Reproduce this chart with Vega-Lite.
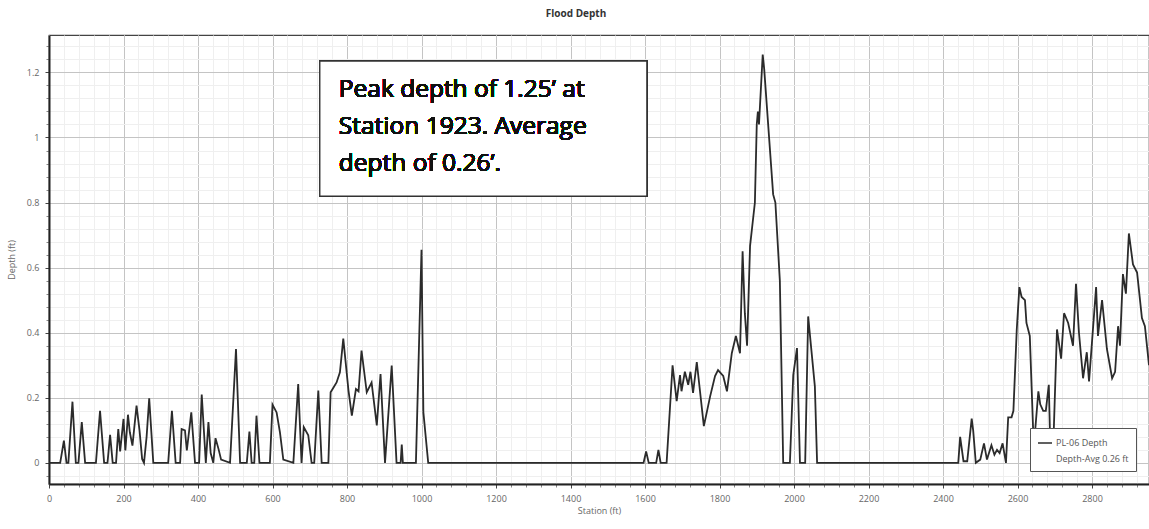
{
  "$schema": "https://vega.github.io/schema/vega-lite/v6.json",
  "width": 1100,
  "height": 449,
  "autosize": {"type": "none"},
  "padding": {"left": 49, "top": 35, "right": 0, "bottom": 45},
  "background": "white",
  "config": {"view": {"stroke": "#444", "strokeWidth": 1.2}, "font": "Open Sans"},
  "title": {"text": "Flood Depth", "fontSize": 10, "fontWeight": "bold", "color": "#333", "font": "Open Sans", "offset": 8, "baseline": "alphabetic", "dx": -23},
  "datasets": {
    "depth": [
      {"station": 0, "depth": 0}, {"station": 30, "depth": 0}, {"station": 40, "depth": 0.068}, {"station": 47, "depth": 0},
      {"station": 52, "depth": 0}, {"station": 63, "depth": 0.188}, {"station": 72, "depth": 0}, {"station": 79, "depth": 0},
      {"station": 88, "depth": 0.125}, {"station": 97, "depth": 0}, {"station": 126, "depth": 0}, {"station": 137, "depth": 0.16},
      {"station": 148, "depth": 0}, {"station": 157, "depth": 0}, {"station": 164, "depth": 0.086}, {"station": 171, "depth": 0},
      {"station": 180, "depth": 0}, {"station": 186, "depth": 0.104}, {"station": 191, "depth": 0.035}, {"station": 200, "depth": 0.135},
      {"station": 205, "depth": 0.038}, {"station": 212, "depth": 0.148}, {"station": 217, "depth": 0.094}, {"station": 224, "depth": 0.053},
      {"station": 235, "depth": 0.176}, {"station": 243, "depth": 0.1}, {"station": 250, "depth": 0.012}, {"station": 255, "depth": 0},
      {"station": 262, "depth": 0.08}, {"station": 269, "depth": 0.198}, {"station": 280, "depth": 0}, {"station": 320, "depth": 0},
      {"station": 330, "depth": 0.16}, {"station": 340, "depth": 0}, {"station": 352, "depth": 0}, {"station": 356, "depth": 0.104},
      {"station": 365, "depth": 0.1}, {"station": 370, "depth": 0.038}, {"station": 382, "depth": 0.155}, {"station": 392, "depth": 0},
      {"station": 403, "depth": 0}, {"station": 410, "depth": 0.21}, {"station": 421, "depth": 0}, {"station": 428, "depth": 0.125},
      {"station": 434, "depth": 0.03}, {"station": 441, "depth": 0}, {"station": 447, "depth": 0.076}, {"station": 455, "depth": 0.043},
      {"station": 462, "depth": 0.01}, {"station": 486, "depth": 0}, {"station": 502, "depth": 0.35}, {"station": 513, "depth": 0},
      {"station": 531, "depth": 0}, {"station": 538, "depth": 0.096}, {"station": 544, "depth": 0}, {"station": 551, "depth": 0},
      {"station": 557, "depth": 0.145}, {"station": 565, "depth": 0}, {"station": 593, "depth": 0}, {"station": 600, "depth": 0.179},
      {"station": 611, "depth": 0.155}, {"station": 620, "depth": 0.094}, {"station": 629, "depth": 0.01}, {"station": 656, "depth": 0},
      {"station": 669, "depth": 0.242}, {"station": 678, "depth": 0}, {"station": 684, "depth": 0.11}, {"station": 696, "depth": 0.085},
      {"station": 705, "depth": 0}, {"station": 712, "depth": 0}, {"station": 723, "depth": 0.222}, {"station": 732, "depth": 0},
      {"station": 750, "depth": 0}, {"station": 756, "depth": 0.217}, {"station": 763, "depth": 0.23}, {"station": 772, "depth": 0.247},
      {"station": 781, "depth": 0.278}, {"station": 790, "depth": 0.382}, {"station": 804, "depth": 0.222}, {"station": 813, "depth": 0.145},
      {"station": 824, "depth": 0.227}, {"station": 831, "depth": 0.22}, {"station": 839, "depth": 0.345}, {"station": 853, "depth": 0.217},
      {"station": 866, "depth": 0.247}, {"station": 880, "depth": 0.115}, {"station": 890, "depth": 0.273}, {"station": 902, "depth": 0},
      {"station": 920, "depth": 0.299}, {"station": 933, "depth": 0}, {"station": 944, "depth": 0}, {"station": 947, "depth": 0.056},
      {"station": 950, "depth": 0}, {"station": 985, "depth": 0}, {"station": 1000, "depth": 0.655}, {"station": 1005, "depth": 0.156},
      {"station": 1018, "depth": 0}, {"station": 1596, "depth": 0}, {"station": 1603, "depth": 0.035}, {"station": 1610, "depth": 0},
      {"station": 1630, "depth": 0}, {"station": 1636, "depth": 0.04}, {"station": 1642, "depth": 0}, {"station": 1658, "depth": 0},
      {"station": 1674, "depth": 0.3}, {"station": 1685, "depth": 0.19}, {"station": 1694, "depth": 0.27}, {"station": 1698, "depth": 0.22},
      {"station": 1707, "depth": 0.28}, {"station": 1716, "depth": 0.24}, {"station": 1722, "depth": 0.28}, {"station": 1729, "depth": 0.215},
      {"station": 1739, "depth": 0.31}, {"station": 1758, "depth": 0.113}, {"station": 1775, "depth": 0.205}, {"station": 1788, "depth": 0.267},
      {"station": 1796, "depth": 0.285}, {"station": 1810, "depth": 0.267}, {"station": 1820, "depth": 0.22}, {"station": 1833, "depth": 0.337},
      {"station": 1844, "depth": 0.39}, {"station": 1855, "depth": 0.337}, {"station": 1862, "depth": 0.65}, {"station": 1868, "depth": 0.46},
      {"station": 1874, "depth": 0.36}, {"station": 1882, "depth": 0.666}, {"station": 1895, "depth": 0.8}, {"station": 1900, "depth": 1.04},
      {"station": 1903, "depth": 1.08}, {"station": 1906, "depth": 1.04}, {"station": 1916, "depth": 1.255}, {"station": 1920, "depth": 1.21},
      {"station": 1944, "depth": 0.825}, {"station": 1950, "depth": 0.8}, {"station": 1962, "depth": 0.56}, {"station": 1971, "depth": 0},
      {"station": 1989, "depth": 0}, {"station": 1998, "depth": 0.27}, {"station": 2008, "depth": 0.353}, {"station": 2016, "depth": 0},
      {"station": 2030, "depth": 0}, {"station": 2038, "depth": 0.45}, {"station": 2041, "depth": 0.414}, {"station": 2056, "depth": 0.235},
      {"station": 2062, "depth": 0}, {"station": 2441, "depth": 0}, {"station": 2446, "depth": 0.08}, {"station": 2455, "depth": 0.005},
      {"station": 2465, "depth": 0.005}, {"station": 2477, "depth": 0.136}, {"station": 2481, "depth": 0.1}, {"station": 2488, "depth": 0},
      {"station": 2500, "depth": 0.01}, {"station": 2510, "depth": 0.06}, {"station": 2518, "depth": 0.01}, {"station": 2530, "depth": 0.054},
      {"station": 2538, "depth": 0.025}, {"station": 2545, "depth": 0.04}, {"station": 2552, "depth": 0.03}, {"station": 2560, "depth": 0.06},
      {"station": 2569, "depth": 0}, {"station": 2575, "depth": 0.14}, {"station": 2584, "depth": 0.14}, {"station": 2589, "depth": 0.16},
      {"station": 2598, "depth": 0.41}, {"station": 2605, "depth": 0.54}, {"station": 2611, "depth": 0.51}, {"station": 2620, "depth": 0.5},
      {"station": 2624, "depth": 0.43}, {"station": 2633, "depth": 0.39}, {"station": 2642, "depth": 0.1}, {"station": 2646, "depth": 0.08},
      {"station": 2656, "depth": 0.22}, {"station": 2661, "depth": 0.18}, {"station": 2669, "depth": 0.16}, {"station": 2676, "depth": 0.16},
      {"station": 2684, "depth": 0.24}, {"station": 2688, "depth": 0.05}, {"station": 2696, "depth": 0.05}, {"station": 2706, "depth": 0.41},
      {"station": 2717, "depth": 0.32}, {"station": 2725, "depth": 0.46}, {"station": 2736, "depth": 0.43}, {"station": 2749, "depth": 0.36},
      {"station": 2757, "depth": 0.55}, {"station": 2765, "depth": 0.4}, {"station": 2776, "depth": 0.26}, {"station": 2786, "depth": 0.34},
      {"station": 2792, "depth": 0.25}, {"station": 2811, "depth": 0.54}, {"station": 2816, "depth": 0.39}, {"station": 2827, "depth": 0.5},
      {"station": 2840, "depth": 0.35}, {"station": 2854, "depth": 0.26}, {"station": 2862, "depth": 0.28}, {"station": 2870, "depth": 0.42},
      {"station": 2875, "depth": 0.36}, {"station": 2883, "depth": 0.58}, {"station": 2891, "depth": 0.52}, {"station": 2899, "depth": 0.705},
      {"station": 2910, "depth": 0.61}, {"station": 2921, "depth": 0.585}, {"station": 2934, "depth": 0.445}, {"station": 2942, "depth": 0.42},
      {"station": 2953, "depth": 0.3}
    ]
  },
  "data": {"name": "depth"},
  "resolve": {"axis": {"x": "independent", "y": "independent"}},
  "layer": [
    {
      "mark": {"type": "line", "strokeOpacity": 0},
      "encoding": {
        "x": {"field": "station", "type": "quantitative", "scale": {"domain": [0, 2953], "nice": false, "zero": false},
          "axis": {"orient": "bottom", "title": null, "labels": false, "domain": false, "grid": true, "gridColor": "#efefef", "ticks": true, "tickSize": 3, "tickColor": "#888",
            "values": [0,40,80,120,160,200,240,280,320,360,400,440,480,520,560,600,640,680,720,760,800,840,880,920,960,1000,1040,1080,1120,1160,1200,1240,1280,1320,1360,1400,1440,1480,1520,1560,1600,1640,1680,1720,1760,1800,1840,1880,1920,1960,2000,2040,2080,2120,2160,2200,2240,2280,2320,2360,2400,2440,2480,2520,2560,2600,2640,2680,2720,2760,2800,2840,2880,2920]}},
        "y": {"field": "depth", "type": "quantitative", "scale": {"domain": [-0.065, 1.315], "nice": false, "zero": false},
          "axis": {"orient": "left", "title": null, "labels": false, "domain": false, "grid": true, "gridColor": "#efefef", "ticks": true, "tickSize": 3, "tickColor": "#888",
            "values": [-0.04,0,0.04,0.08,0.12,0.16,0.2,0.24,0.28,0.32,0.36,0.4,0.44,0.48,0.52,0.56,0.6,0.64,0.68,0.72,0.76,0.8,0.84,0.88,0.92,0.96,1,1.04,1.08,1.12,1.16,1.2,1.24,1.28]}}
      }
    },
    {
      "mark": {"type": "line", "strokeWidth": 1.8, "interpolate": "linear"},
      "encoding": {
        "x": {"field": "station", "type": "quantitative",
          "axis": {"orient": "bottom", "title": "Station (ft)", "values": [0,200,400,600,800,1000,1200,1400,1600,1800,2000,2200,2400,2600,2800], "format": "d",
            "grid": true, "gridColor": "#c4c4c4", "domainColor": "#222", "domainWidth": 2, "tickColor": "#444", "tickSize": 4,
            "labelFont": "Open Sans", "labelFontSize": 9, "labelColor": "#666", "labelPadding": 6, "labelFlush": false,
            "titleFont": "Open Sans", "titleFontSize": 9, "titleColor": "#666", "titleFontWeight": "normal", "titlePadding": 3}},
        "y": {"field": "depth", "type": "quantitative",
          "axis": {"orient": "left", "title": "Depth (ft)", "values": [0,0.2,0.4,0.6,0.8,1,1.2], "format": "~g",
            "grid": true, "gridColor": "#c4c4c4", "domainColor": "#222", "domainWidth": 2, "tickColor": "#444", "tickSize": 4,
            "labelFont": "Open Sans", "labelFontSize": 9, "labelColor": "#666", "labelPadding": 6,
            "titleFont": "Open Sans", "titleFontSize": 9, "titleColor": "#666", "titleFontWeight": "normal", "titlePadding": 10}},
        "color": {"datum": "PL-06 Depth", "type": "nominal",
          "scale": {"domain": ["PL-06 Depth", "Depth-Avg 0.26 ft"], "range": ["#2b2b2b", "transparent"]},
          "legend": {"title": null, "orient": "none", "legendX": 981, "legendY": 393, "fillColor": "white", "strokeColor": "#555", "padding": 7,
            "labelFont": "Open Sans", "labelFontSize": 9, "labelColor": "#555", "symbolType": "stroke", "symbolSize": 196, "symbolStrokeWidth": 1.5,
            "rowPadding": 3, "labelOffset": 3}}
      }
    },
    {
      "mark": {"type": "rect", "fill": "white", "stroke": "#333", "strokeWidth": 1.3},
      "encoding": {
        "x": {"datum": 727, "type": "quantitative", "axis": null},
        "x2": {"datum": 1605},
        "y": {"datum": 1.235, "type": "quantitative", "axis": null},
        "y2": {"datum": 0.82}
      }
    },
    {
      "mark": {"type": "text", "font": "Open Sans", "fontSize": 24.5, "fontWeight": "normal", "color": "#111", "align": "left", "baseline": "alphabetic", "lineHeight": 36.7},
      "encoding": {
        "x": {"datum": 778, "type": "quantitative", "axis": null},
        "y": {"datum": 1.124, "type": "quantitative", "axis": null},
        "text": {"value": ["Peak depth of 1.25’ at", "Station 1923. Average", "depth of 0.26’."]}
      }
    }
  ]
}
